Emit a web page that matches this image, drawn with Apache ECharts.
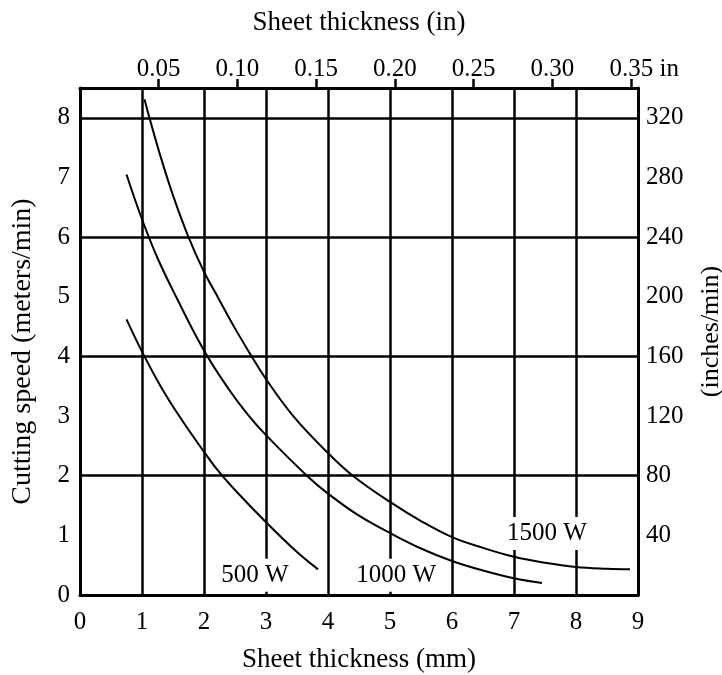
<!DOCTYPE html>
<html>
<head>
<meta charset="utf-8">
<script src="https://cdn.jsdelivr.net/npm/echarts@6/dist/echarts.min.js"></script>
<style>
  html, body { margin: 0; padding: 0; background: #fff; }
  #chart { width: 722px; height: 675px; }
</style>
</head>
<body>
<div id="chart"></div>
<script>
// sheet thickness (mm) vs cutting speed (m/min)
var curve500 = [[0.75, 4.62], [1.0, 4.08], [1.3, 3.5], [1.6, 3.0], [2.0, 2.4], [2.23, 2.08],
    [2.5, 1.76], [3.0, 1.22], [3.5, 0.72], [3.84, 0.43]];
var curve1000 = [[0.75, 7.05], [1.0, 6.3], [1.25, 5.65], [1.55, 5.0], [2.0, 4.1], [2.4, 3.45],
    [2.71, 3.02], [3.0, 2.68], [3.66, 2.0], [4.0, 1.7], [4.5, 1.33], [5.0, 1.04], [5.5, 0.78],
    [6.0, 0.57], [6.5, 0.41], [7.0, 0.28], [7.45, 0.2]];
var curve1500 = [[1.04, 8.31], [1.12, 8.0], [1.3, 7.35], [1.5, 6.7], [1.75, 6.0], [2.0, 5.42],
    [2.23, 4.98], [2.5, 4.47], [2.74, 4.05], [3.0, 3.62], [3.44, 3.0], [4.0, 2.38], [4.4, 2.0],
    [5.0, 1.56], [5.5, 1.24], [6.0, 0.97], [6.5, 0.79], [7.0, 0.64], [7.5, 0.54], [8.0, 0.47],
    [8.5, 0.44], [8.87, 0.43]];

// curve captions: [mm, m/min, text]
var captions = [[2.82, 0.33, '500 W'], [5.1, 0.33, '1000 W'], [7.53, 1.03, '1500 W']];

var mmTicks = [0, 1, 2, 3, 4, 5, 6, 7, 8, 9];
var inchTicks = [0.05, 0.10, 0.15, 0.20, 0.25, 0.30, 0.35];
var speedTicks = [0, 1, 2, 3, 4, 5, 6, 7, 8];
var inchSpeedTicks = [40, 80, 120, 160, 200, 240, 280, 320];

var FONT = 'Liberation Serif';
var black = '#000';

function curveSeries(name, data) {
    return {
        name: name,
        type: 'line',
        data: data,
        smooth: 0.4,
        showSymbol: false,
        silent: true,
        lineStyle: { color: black, width: 2 },
        z: 3
    };
}

var chart = echarts.init(document.getElementById('chart'));

var option = {
    animation: false,
    backgroundColor: '#fff',
    textStyle: { fontFamily: FONT, color: black },
    grid: { left: 80, right: 84, top: 88, bottom: 80, containLabel: false, outerBoundsMode: 'none' },
    xAxis: [{
        type: 'value',
        position: 'bottom',
        min: 0, max: 9, interval: 1,
        name: 'Sheet thickness (mm)',
        nameLocation: 'middle',
        nameGap: 51,
        nameTextStyle: { fontFamily: FONT, fontSize: 27, color: black },
        axisLine: { onZero: false, lineStyle: { color: black, width: 3 } },
        axisTick: { show: false },
        axisLabel: { customValues: mmTicks, margin: 15, fontFamily: FONT, fontSize: 25, color: black },
        splitLine: { show: true, lineStyle: { color: black, width: 2.5 } }
    }, {
        type: 'value',
        position: 'top',
        min: 0, max: 9 / 25.4,
        name: 'Sheet thickness (in)',
        nameLocation: 'middle',
        nameGap: 52,
        nameTextStyle: { fontFamily: FONT, fontSize: 27, color: black },
        axisLine: { onZero: false, lineStyle: { color: black, width: 3 } },
        axisTick: { customValues: inchTicks, inside: false, length: 9, lineStyle: { color: black, width: 2.5 } },
        axisLabel: {
            customValues: inchTicks,
            margin: 6,
            fontFamily: FONT, fontSize: 25, color: black,
            formatter: function (v) {
                var s = v.toFixed(2);
                return Math.abs(v - 0.35) < 1e-6 ? '{p|}' + s + ' in' : s;
            },
            rich: { p: { width: 26 } }
        },
        splitLine: { show: false }
    }],
    yAxis: [{
        type: 'value',
        position: 'left',
        min: 0, max: 8.5,
        name: 'Cutting speed (meters/min)',
        nameLocation: 'middle',
        nameGap: 43,
        nameTextStyle: { fontFamily: FONT, fontSize: 28, color: black, padding: [0, 20, 0, 0] },
        axisLine: { show: true, onZero: false, lineStyle: { color: black, width: 3 } },
        axisTick: { show: false },
        axisLabel: { customValues: speedTicks, margin: 10, fontFamily: FONT, fontSize: 25, color: black },
        splitLine: { show: true, lineStyle: { color: black, width: 2.5 } }
    }, {
        type: 'value',
        position: 'right',
        min: 0, max: 340,
        name: '(inches/min)',
        nameLocation: 'middle',
        nameGap: 60,
        nameTextStyle: { fontFamily: FONT, fontSize: 26, color: black, padding: [0, 0, 0, 20] },
        axisLine: { show: true, onZero: false, lineStyle: { color: black, width: 3 } },
        axisTick: { show: false },
        axisLabel: { customValues: inchSpeedTicks, margin: 8, fontFamily: FONT, fontSize: 25, color: black },
        splitLine: { show: false }
    }],
    series: [
        curveSeries('500 W', curve500),
        curveSeries('1000 W', curve1000),
        curveSeries('1500 W', curve1500),
        {
            type: 'scatter',
            silent: true,
            symbolSize: 0,
            data: captions,
            z: 4,
            itemStyle: { opacity: 1 },
            label: {
                show: true,
                position: 'inside',
                formatter: function (p) { return p.data[2]; },
                fontFamily: FONT,
                fontSize: 25,
                color: black,
                opacity: 1,
                backgroundColor: '#fff',
                padding: [4, 6]
            }
        }
    ]
};

chart.setOption(option);
</script>
</body>
</html>
